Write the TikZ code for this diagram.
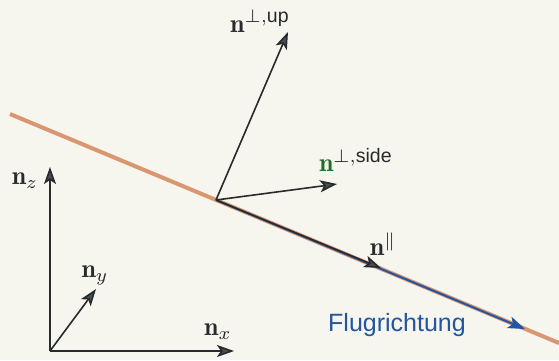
\documentclass[tikz,border=0pt]{standalone}
\usepackage{fontspec}
\setsansfont{Liberation Sans}
\usetikzlibrary{arrows.meta}
\definecolor{bg}{RGB}{246,245,238}
\definecolor{vecgray}{RGB}{40,42,45}
\definecolor{tipgray}{RGB}{70,78,82}
\definecolor{flight}{RGB}{218,150,112}
\definecolor{flblue}{RGB}{35,85,160}
\definecolor{dgreen}{RGB}{30,110,40}
\newcommand{\supsf}[1]{\mbox{\sffamily\fontsize{7.5}{8}\selectfont #1}}
\begin{document}
\begin{tikzpicture}[x=1pt,y=-1pt,
  vec/.style={draw=vecgray, line width=1.6pt, -{Stealth[length=17pt,width=12pt,inset=4pt,fill=tipgray]}},
  lbl/.style={scale=2.6, inner sep=0pt, text=vecgray}]
\useasboundingbox (0,0) rectangle (559,360);
\fill[bg] (0,0) rectangle (559,360);
% flight path line
\coordinate (L1) at (10,114);
\coordinate (L2) at (559,343);
\draw[flight, line width=4pt] (L1) -- (L2);
% vectors at the aircraft point
\coordinate (O) at (216,200);
\coordinate (Up) at (288,32);
\coordinate (Side) at (337,184);
\coordinate (Par) at (381,268);
\coordinate (Fl) at (525,329);
\draw[draw=flblue, line width=2pt, -{Stealth[length=17pt,width=12pt,inset=4pt,fill=flblue]}] (O) -- (Fl);
\draw[vec] (O) -- (Par);
\draw[vec] (O) -- (Up);
\draw[vec] (O) -- (Side);
% coordinate frame
\coordinate (A) at (50,351);
\coordinate (Z) at (50,167);
\coordinate (X) at (234,351);
\coordinate (Y) at (96,289);
\draw[vec] (A) -- (Z);
\draw[vec] (A) -- (X);
\draw[vec] (A) -- (Y);
% labels
\node[lbl] (lup) at (260,21) {$\mathbf{n}^{\perp,\supsf{up}}$};
\node[lbl] (lside) at (356,160) {$\textcolor{dgreen}{\mathbf{n}}^{\perp,\supsf{side}}$};
\node[lbl] (lpar) at (383,244) {$\mathbf{n}^{\parallel}$};
\node[lbl] (lz) at (25,181) {$\mathbf{n}_z$};
\node[lbl] (ly) at (95,275) {$\mathbf{n}_y$};
\node[lbl] (lx) at (218,332) {$\mathbf{n}_x$};
\node[inner sep=0pt, text=flblue, font=\sffamily\fontsize{25}{28}\selectfont] (fl) at (397,325) {Flugrichtung};
\end{tikzpicture}
\end{document}
